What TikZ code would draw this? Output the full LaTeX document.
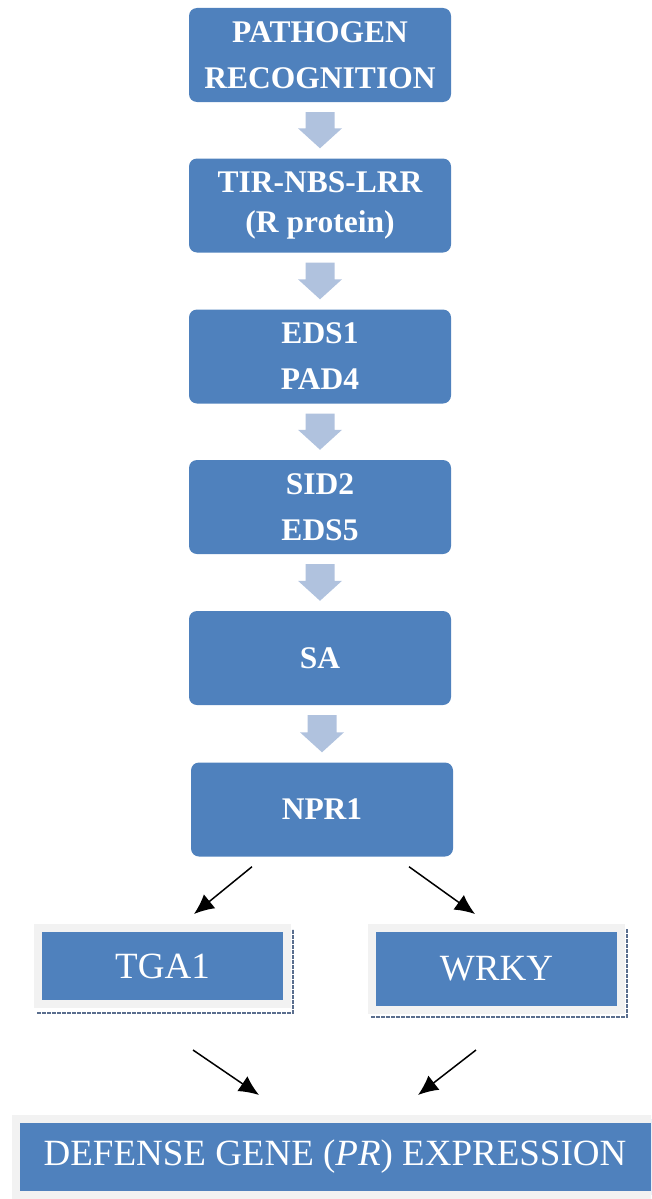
\documentclass[tikz,border=0pt]{standalone}
\usepackage{fontspec}
\setmainfont{Liberation Serif}
\usetikzlibrary{calc,arrows.meta}
\definecolor{boxblue}{HTML}{4F81BD}
\definecolor{arrowblue}{HTML}{B0C2DE}
\definecolor{framegray}{HTML}{F2F2F2}
\definecolor{shadowc}{HTML}{5A6E8E}
\newcommand\blockarr[2]{%
  \fill[arrowblue]
    ($(#1.south -| #2.north)+(-14.5,10)$) --
    ($(#1.south -| #2.north)+(14.5,10)$) --
    ($(#2.north)+(14.5,-30)$) --
    ($(#2.north)+(22,-30)$) --
    ($(#2.north)+(0,-10)$) --
    ($(#2.north)+(-22,-30)$) --
    ($(#2.north)+(-14.5,-30)$) -- cycle;}
\begin{document}
\begin{tikzpicture}[x=1pt,y=-1pt,
  stepbox/.style={rectangle, rounded corners=8pt, fill=boxblue, text=white,
    minimum width=262pt, minimum height=94pt, inner sep=0pt, align=center,
    font=\bfseries\fontsize{31.5}{46}\selectfont},
  tfbox/.style={rectangle, fill=boxblue, draw=framegray, line width=8pt,
    text=white, minimum width=249pt, inner sep=0pt,
    font=\fontsize{37}{40}\selectfont},
  shadowline/.style={draw=shadowc, line width=2.5pt, dash pattern=on 4pt off 1pt},
  blackarr/.style={-{Latex[length=20pt,width=18pt]}, line width=1.5pt, black}]
\useasboundingbox (0,0) rectangle (651,1199);
\clip (0,0) rectangle (651,1199);

\node[stepbox] (p) at (320,55) {PATHOGEN\\RECOGNITION};
\node[stepbox, font=\bfseries\fontsize{31.5}{40}\selectfont] (r) at (320,205.5) {TIR-NBS-LRR\\(R protein)};
\node[stepbox] (e) at (320,356.5) {EDS1\\PAD4};
\node[stepbox] (s) at (320,507) {SID2\\EDS5};
\node[stepbox] (sa) at (320,658) {SA};
\node[stepbox] (n) at (322,809.5) {NPR1};

\blockarr{p}{r}
\blockarr{r}{e}
\blockarr{e}{s}
\blockarr{s}{sa}
\blockarr{sa}{n}

% transcription factor boxes
\draw[shadowline] (37,1013) -- (293,1013) -- (293,929);
\node[tfbox, minimum height=76pt] (t) at (162.5,966) {TGA1};
\draw[shadowline] (371,1017) -- (627,1017) -- (627,929);
\node[tfbox, minimum height=82pt] (w) at (496.5,969) {WRKY};

% defense gene box
\node[tfbox, minimum width=664pt, minimum height=76pt] (d) at (348,1157)
  {\hspace*{-26pt}DEFENSE GENE (\textit{PR}) EXPRESSION};

\draw[blackarr] ($(n.south)+(-70,10)$) -- ($(t.north)+(31.5,-10)$);
\draw[blackarr] ($(n.south)+(87,10)$) -- ($(w.north)+(-21.5,-10)$);
\draw[blackarr] ($(t.south)+(30.5,42)$) -- ($(d.north)+(-89,-20)$);
\draw[blackarr] ($(w.south)+(-20.5,36)$) -- ($(d.north)+(70,-20)$);
\end{tikzpicture}
\end{document}
